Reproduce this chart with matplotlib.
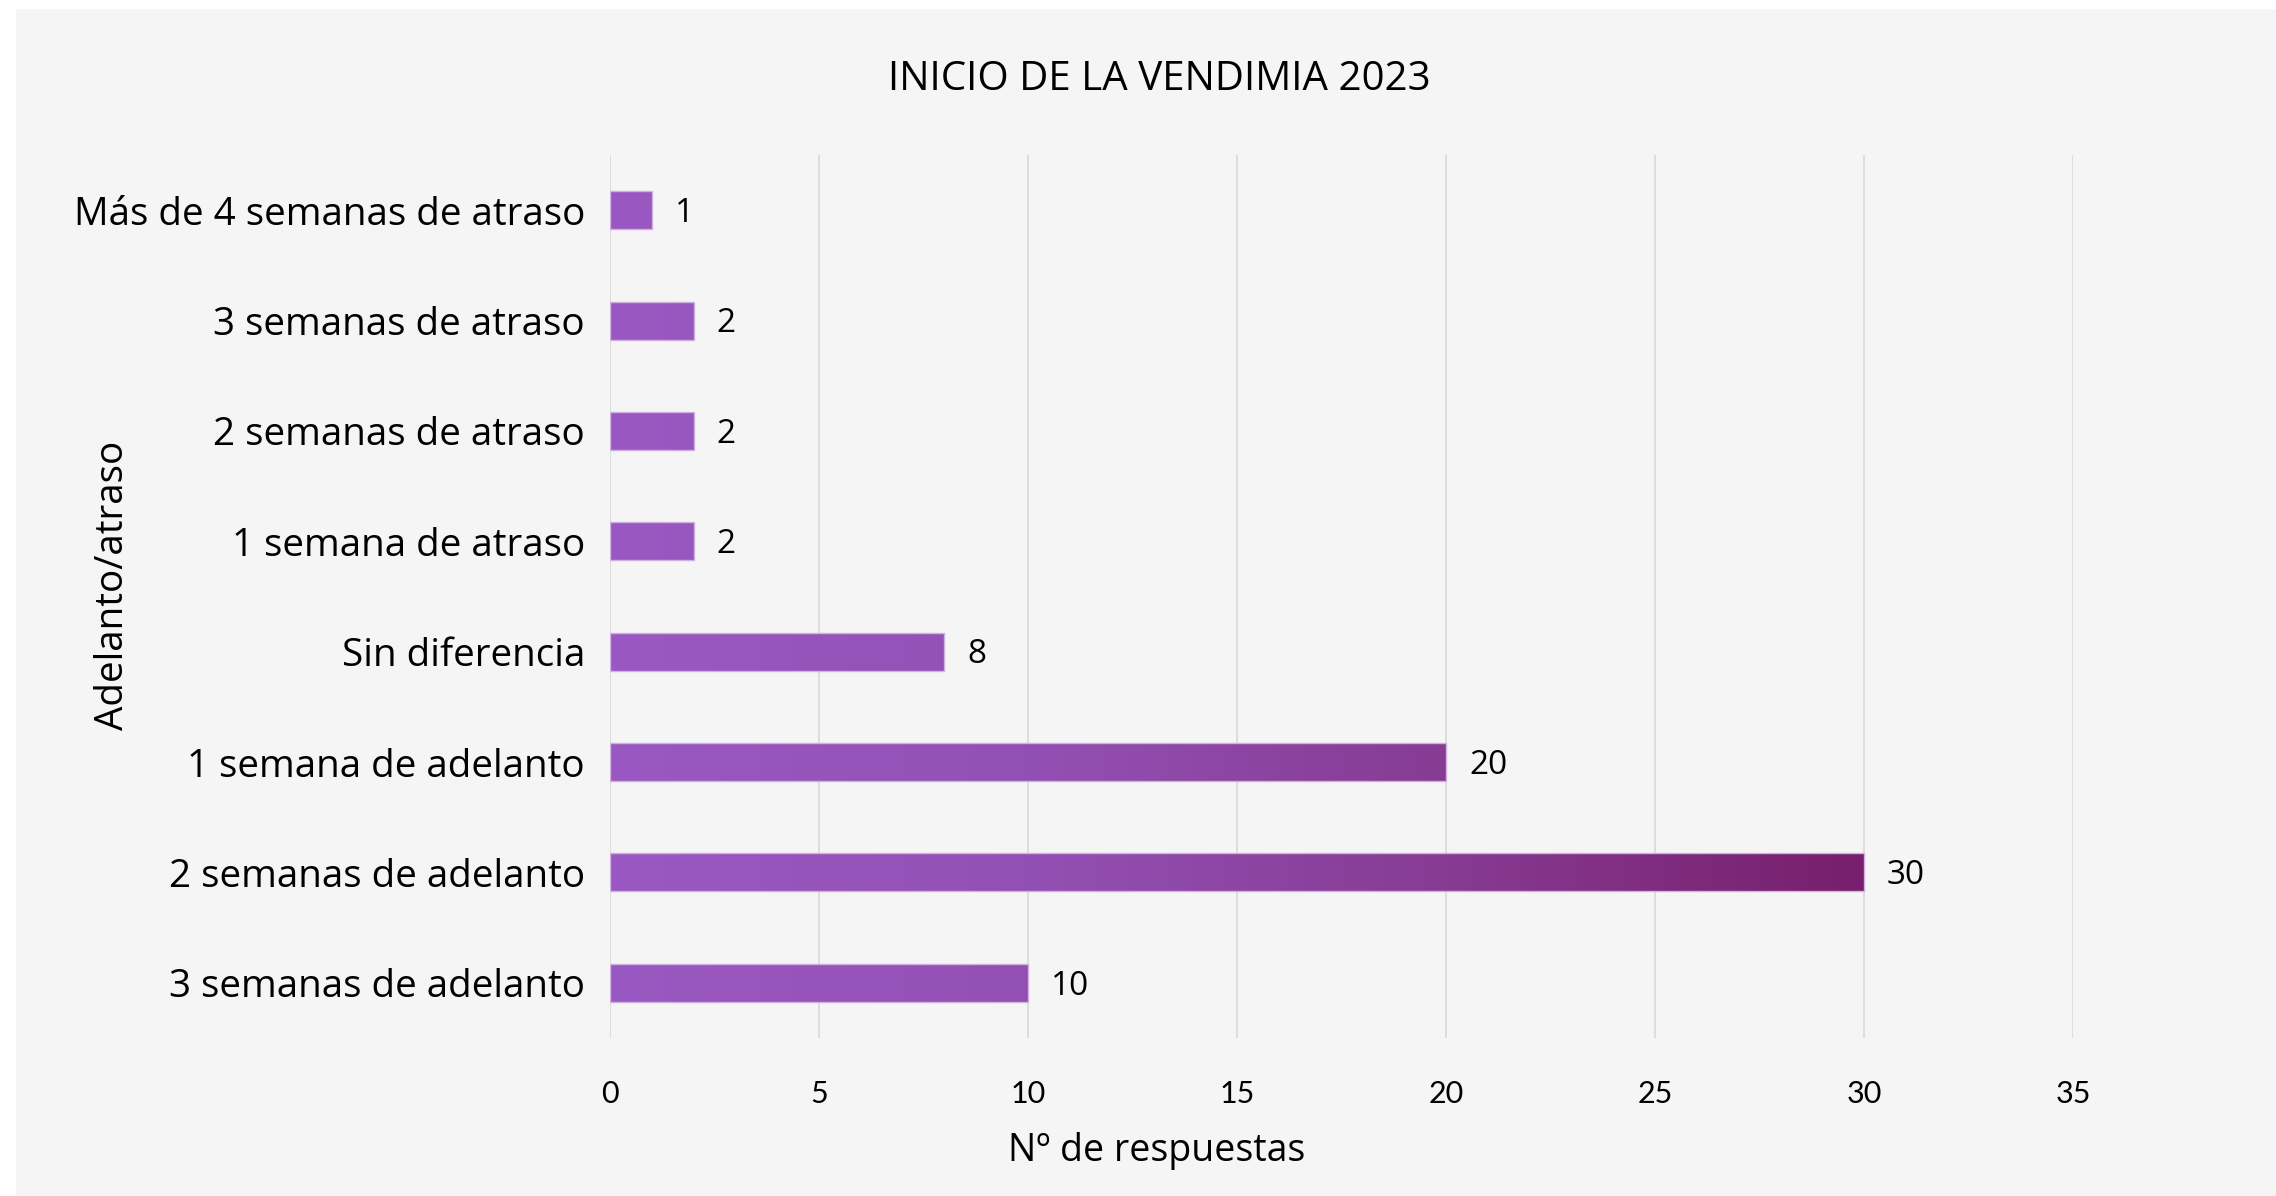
import numpy as np
import matplotlib
matplotlib.use("Agg")
import matplotlib.pyplot as plt
from matplotlib.colors import LinearSegmentedColormap
from matplotlib.patches import Rectangle

categorias = [
    "Más de 4 semanas de atraso",
    "3 semanas de atraso",
    "2 semanas de atraso",
    "1 semana de atraso",
    "Sin diferencia",
    "1 semana de adelanto",
    "2 semanas de adelanto",
    "3 semanas de adelanto",
]
respuestas = [1, 2, 2, 2, 8, 20, 30, 10]
ticks_x = [0, 5, 10, 15, 20, 25, 30, 35]

# gradient along the value axis, light lilac -> plum
cmap = LinearSegmentedColormap.from_list(
    "uva", [(0.0, "#9a58c2"), (0.33, "#9350b4"), (0.67, "#873b93"), (1.0, "#771f6c")])

fig = plt.figure(figsize=(22.76, 11.96), dpi=100, facecolor="white")
fig.patches.append(Rectangle((16 / 2276, 0), 1, 1 - 9 / 1196, transform=fig.transFigure,
                             facecolor="#f5f5f5", edgecolor="none", zorder=-10))

ax = fig.add_axes([610 / 2276, 1 - 1038 / 1196, (2073 - 610) / 2276, (1038 - 155) / 1196])
ax.set_facecolor("none")

y = np.arange(len(categorias))
alto = 0.345
barras = ax.barh(y, respuestas, height=alto, facecolor="none", edgecolor="#cfb0e0",
                 linewidth=1.0, zorder=4)
vmax = max(respuestas)
for b, v, yi in zip(barras, respuestas, y):
    grad = np.linspace(0, v, 300).reshape(1, -1)
    im = ax.imshow(grad, cmap=cmap, vmin=0, vmax=vmax, aspect="auto",
                   extent=[0, v, yi + alto / 2, yi - alto / 2], zorder=3,
                   interpolation="bilinear")
    im.set_clip_path(b)
    ax.text(v + 0.55, yi + 0.03, str(v), va="center", ha="left", fontsize=24,
            family="Open Sans", color="#000000")

ax.set_xlim(0, 35)
ax.set_ylim(len(categorias) - 0.5, -0.5)
ax.set_xticks(ticks_x)
ax.set_xticklabels([str(t) for t in ticks_x], family="Lato", fontsize=22)
ax.set_yticks(y)
ax.set_yticklabels(categorias, family="Open Sans", fontsize=27.8)
ax.tick_params(axis="both", length=0, colors="#000000")
ax.tick_params(axis="x", pad=30)
ax.tick_params(axis="y", pad=18)
ax.grid(axis="x", color="#d9d9d9", linewidth=1.2, zorder=0)
ax.set_axisbelow(True)
for s in ax.spines.values():
    s.set_visible(False)

fig.text(1159 / 2276, 1 - 80 / 1196, "INICIO DE LA VENDIMIA 2023", ha="center", va="center",
         fontsize=29, family="Open Sans", color="#000000")
fig.text(1157 / 2276, 1 - 1151 / 1196, "Nº de respuestas", ha="center", va="center",
         fontsize=27, family="Open Sans", color="#000000")
fig.text(113 / 2276, 1 - 585 / 1196, "Adelanto/atraso", ha="center", va="center",
         rotation=90, fontsize=27.8, family="Open Sans", color="#000000")

fig.savefig("out.png", dpi=100, facecolor=fig.get_facecolor())
